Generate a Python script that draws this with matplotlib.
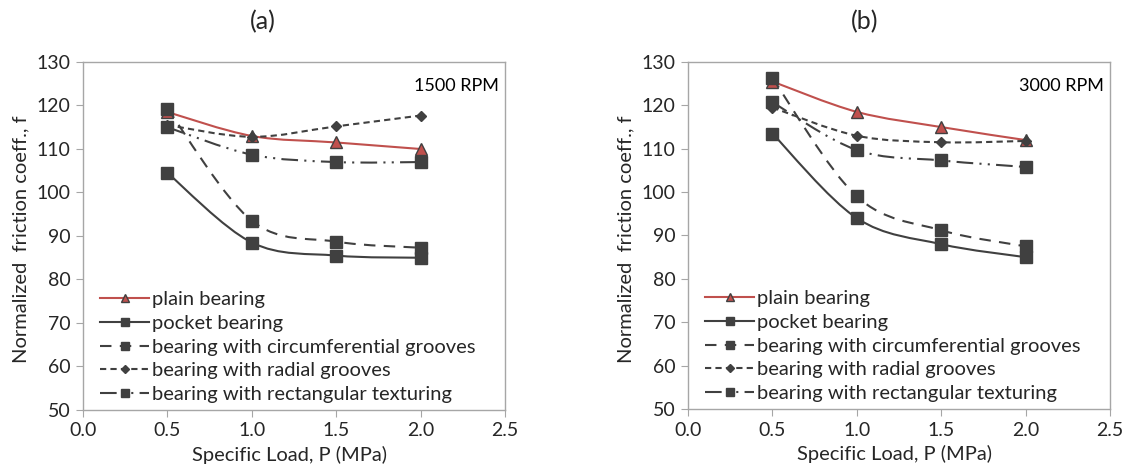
import matplotlib
matplotlib.use("Agg")
import matplotlib.pyplot as plt
import numpy as np
from matplotlib.path import Path
from matplotlib.patches import PathPatch
from matplotlib.lines import Line2D

plt.rcParams['font.family'] = ['Lato', 'DejaVu Sans']

load = [0.5, 1.0, 1.5, 2.0]
series_names = ["plain bearing", "pocket bearing", "bearing with circumferential grooves",
                "bearing with radial grooves", "bearing with rectangular texturing"]

# panel (a) 1500 RPM
a_plain = [118.5, 113.0, 111.5, 110.0]
a_pocket = [104.5, 88.5, 85.5, 85.0]
a_circ = [119.3, 93.5, 88.7, 87.3]
a_radial = [115.5, 112.8, 115.2, 117.7]
a_rect = [115.0, 108.7, 107.0, 107.0]

# panel (b) 3000 RPM
b_plain = [125.5, 118.5, 115.0, 112.0]
b_pocket = [113.5, 94.0, 88.0, 85.0]
b_circ = [126.3, 99.0, 91.2, 87.5]
b_radial = [119.5, 113.0, 111.5, 111.8]
b_rect = [120.7, 109.7, 107.3, 105.8]

xticks = [0.0, 0.5, 1.0, 1.5, 2.0, 2.5]
yticks = [50, 60, 70, 80, 90, 100, 110, 120, 130]

RED = '#C0504D'
DARK = '#404040'
styles = [
    dict(color=RED, ls='-', lw=1.5, marker='^', ms=8, mfc=RED, mec=DARK),
    dict(color=DARK, ls='-', lw=1.5, marker='s', ms=8, mfc=DARK, mec=DARK),
    dict(color=DARK, ls=(0, (5.5, 4)), lw=1.5, marker='s', ms=8, mfc=DARK, mec=DARK),
    dict(color=DARK, ls=(0, (3, 2)), lw=1.5, marker='D', ms=5.5, mfc=DARK, mec=DARK),
    dict(color=DARK, ls=(0, (8, 3, 1, 3, 1, 3)), lw=1.5, marker='s', ms=8, mfc=DARK, mec=DARK),
]


def smooth_path(x, y):
    x = np.asarray(x, float)
    y = np.asarray(y, float)
    pts = np.column_stack([x, y])
    n = len(pts)
    verts = [pts[0]]
    codes = [Path.MOVETO]
    for i in range(n - 1):
        p0 = pts[i - 1] if i > 0 else pts[i]
        p1 = pts[i]
        p2 = pts[i + 1]
        p3 = pts[i + 2] if i + 2 < n else pts[i + 1]
        c1 = p1 + (p2 - p0) / 6.0
        c2 = p2 - (p3 - p1) / 6.0
        verts += [c1, c2, p2]
        codes += [Path.CURVE4] * 3
    return Path(verts, codes)


fig = plt.figure(figsize=(11.3, 4.68), dpi=100)
ax_a = fig.add_axes([83 / 1130, 1 - 410 / 468, 422 / 1130, 348 / 468])
ax_b = fig.add_axes([688 / 1130, 1 - 409 / 468, 422 / 1130, 347 / 468])

panels = [
    (ax_a, [a_plain, a_pocket, a_circ, a_radial, a_rect], "1500 RPM"),
    (ax_b, [b_plain, b_pocket, b_circ, b_radial, b_rect], "3000 RPM"),
]

for ax, data, rpm in panels:
    for vals, st in zip(data, styles):
        patch = PathPatch(smooth_path(load, vals), fill=False, edgecolor=st['color'],
                          linestyle=st['ls'], linewidth=st['lw'], zorder=2, capstyle='butt')
        ax.add_patch(patch)
        ax.plot(load, vals, linestyle='none', marker=st['marker'], ms=st['ms'],
                mfc=st['mfc'], mec=st['mec'], mew=1.0, zorder=3)
    ax.set_xlim(0, 2.5)
    ax.set_ylim(50, 130)
    ax.set_xticks(xticks)
    ax.set_xticklabels([f"{t:.1f}" for t in xticks])
    ax.set_yticks(yticks)
    for sp in ax.spines.values():
        sp.set_color('#A6A6A6')
        sp.set_linewidth(1.0)
    ax.tick_params(axis='both', direction='out', length=5, color='#A6A6A6',
                   labelsize=14, labelcolor='#262626', pad=4)
    ax.set_xlabel("Specific Load, P (MPa)", fontsize=14.5, color='#262626')
    ax.xaxis.set_label_coords(0.49, -0.103)
    ax.set_ylabel("Normalized  friction coeff., f", fontsize=14.5, color='#262626')
    ax.yaxis.set_label_coords(-0.128, 0.49)
    ax.text(0.985, 0.955, rpm, transform=ax.transAxes, ha='right', va='top',
            fontsize=13, color='#000000')
    handles = [Line2D([], [], color=st['color'], linestyle=st['ls'], lw=st['lw'],
                      marker=st['marker'], ms=st['ms'] * 0.75, mfc=st['mfc'], mec=st['mec'])
               for st in styles]
    ax.legend(handles, series_names, loc='lower left', bbox_to_anchor=(0.015, -0.012),
              frameon=False, fontsize=14.5, handlelength=2.4, handletextpad=0.15,
              labelspacing=0.33, borderaxespad=0.15, labelcolor='#262626')

fig.text(263 / 1130, 1 - 22 / 468, "(a)", ha='center', va='center', fontsize=18, color='#262626')
fig.text(865 / 1130, 1 - 22 / 468, "(b)", ha='center', va='center', fontsize=18, color='#262626')

fig.savefig("out.png", dpi=100)
